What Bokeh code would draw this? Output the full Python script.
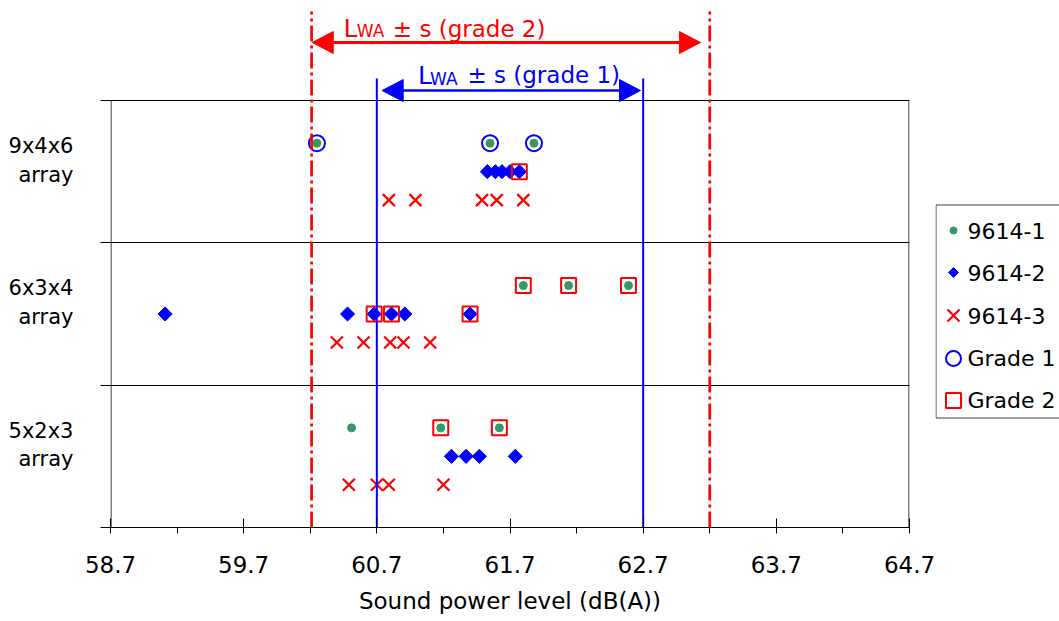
import math
from bokeh.plotting import figure
from bokeh.layouts import row
from bokeh.models import Range1d, FixedTicker, PrintfTickFormatter, ColumnDataSource
from bokeh.core.properties import value
from bokeh.embed import file_html
from bokeh.resources import INLINE

FONT = "DejaVu Sans"
GREEN = "#339966"
BLUE = "#0000FF"
RED = "#FF0000"

# ---------------- data ----------------
categories = ["9x4x6\narray", "6x3x4\narray", "5x2x3\narray"]   # top to bottom
series_names = ["9614-1", "9614-2", "9614-3"]

s9614_1 = [[60.25, 61.55, 61.88],
           [61.80, 62.14, 62.59],
           [60.51, 61.18, 61.62]]
s9614_2 = [[61.53, 61.59, 61.64, 61.70, 61.77],
           [59.11, 60.48, 60.68, 60.81, 60.91, 61.40],
           [61.26, 61.37, 61.47, 61.74]]
s9614_3 = [[60.79, 60.99, 61.49, 61.60, 61.80],
           [60.40, 60.60, 60.80, 60.90, 61.10],
           [60.49, 60.70, 60.79, 61.20]]

grade1_cat = [0, 0, 0]
grade1_series = [0, 0, 0]
grade1_x = [60.25, 61.55, 61.88]

grade2_cat = [0, 1, 1, 1, 1, 1, 1, 2, 2]
grade2_series = [1, 0, 0, 0, 1, 1, 1, 0, 0]
grade2_x = [61.77, 61.80, 62.14, 62.59, 60.68, 60.81, 61.40, 61.18, 61.62]

x_ticks = [58.7, 59.7, 60.7, 61.7, 62.7, 63.7, 64.7]
x_minor = [59.2, 60.2, 61.2, 62.2, 63.2, 64.2]

grade1_bounds = [60.7, 62.7]      # LWA ± s (grade 1)
grade2_bounds = [60.21, 63.2]     # LWA ± s (grade 2)
grade1_arrow = [60.74, 62.68]
grade2_arrow = [60.215, 63.13]

legend_labels = ["9614-1", "9614-2", "9614-3", "Grade 1", "Grade 2"]

# ---------------- geometry ----------------
N = len(categories)
XMIN, XMAX = x_ticks[0], x_ticks[-1]
FRAME_W, FRAME_H = 799, 527          # frame includes the annotation band above the data
DATA_H = 427                         # pixel height of the category area
PX_X = FRAME_W / (XMAX - XMIN)
PX_Y = DATA_H / N
YTOP = FRAME_H / PX_Y

offsets = [0.2, 0.0, -0.2]


def ypos(cat, ser):
    return (N - 1 - cat) + 0.5 + offsets[ser]


def series_source(vals, ser):
    xs, ys = [], []
    for c, lst in enumerate(vals):
        for v in lst:
            xs.append(v)
            ys.append(ypos(c, ser))
    return ColumnDataSource(dict(x=xs, y=ys))


src1 = series_source(s9614_1, 0)
src2 = series_source(s9614_2, 1)
src3 = series_source(s9614_3, 2)
srcg1 = ColumnDataSource(dict(x=grade1_x,
                              y=[ypos(c, s) for c, s in zip(grade1_cat, grade1_series)]))
srcg2 = ColumnDataSource(dict(x=grade2_x,
                              y=[ypos(c, s) for c, s in zip(grade2_cat, grade2_series)]))

# ---------------- main figure ----------------
p = figure(width=935, height=621, x_range=Range1d(XMIN, XMAX), y_range=Range1d(0, YTOP),
           output_backend="svg", toolbar_location=None,
           min_border_left=110, min_border_right=26, min_border_top=0, min_border_bottom=94)
p.outline_line_color = None
p.background_fill_color = "white"
p.border_fill_color = "white"

# plot-area borders (left / right) drawn only over the category area
p.segment(x0=[XMIN + 0.5 / PX_X, XMAX - 0.5 / PX_X], y0=[0, 0],
          x1=[XMIN + 0.5 / PX_X, XMAX - 0.5 / PX_X], y1=[N, N],
          line_color="black", line_width=1)

# data
p.scatter("x", "y", source=src1, marker="circle", size=8, fill_color=GREEN, line_color=GREEN)
p.scatter("x", "y", source=src2, marker="square", angle=math.pi / 4, size=10,
          fill_color=BLUE, line_color=BLUE)
p.scatter("x", "y", source=src3, marker="x", size=17, line_color=RED, line_width=2.2)
p.scatter("x", "y", source=srcg1, marker="circle", size=16, fill_color=None,
          line_color=BLUE, line_width=2)
p.scatter("x", "y", source=srcg2, marker="square", size=15, fill_color=None,
          line_color=RED, line_width=2)

# x axis
xa = p.xaxis[0]
xa.ticker = FixedTicker(ticks=x_ticks, minor_ticks=x_minor)
xa.formatter = PrintfTickFormatter(format="%.1f")
xa.axis_line_color = "black"
xa.major_tick_line_color = "black"
xa.minor_tick_line_color = "black"
xa.major_tick_in = 9
xa.major_tick_out = 6
xa.minor_tick_in = 0
xa.minor_tick_out = 6
xa.major_label_text_font = FONT
xa.major_label_text_font_size = "23px"
xa.major_label_text_color = "black"
xa.major_label_standoff = 22
xa.axis_label = "Sound power level (dB(A))"
xa.axis_label_text_font = FONT
xa.axis_label_text_font_size = "23px"
xa.axis_label_text_font_style = "normal"
xa.axis_label_text_color = "black"
xa.axis_label_standoff = 12

# y axis (category labels)
label_ticks = [(N - 1 - c) + 0.58 for c in range(N)]
ya = p.yaxis[0]
ya.ticker = FixedTicker(ticks=label_ticks, minor_ticks=list(range(N + 1)))
ya.major_label_overrides = {t: lab for t, lab in zip(label_ticks, categories)}
ya.axis_line_color = None
ya.major_tick_line_color = None
ya.major_tick_in = 0
ya.major_tick_out = 10
ya.minor_tick_line_color = "black"
ya.minor_tick_in = 10
ya.minor_tick_out = 10
ya.major_label_text_font = FONT
ya.major_label_text_font_size = "21px"
ya.major_label_text_color = "black"
ya.major_label_standoff = 27

p.xgrid.visible = False
p.ygrid.ticker = FixedTicker(ticks=list(range(1, N + 1)))
p.ygrid.grid_line_color = "black"
p.ygrid.grid_line_alpha = 1
p.ygrid.grid_line_width = 1

# reference lines (LWA ± s)
p.segment(x0=grade2_bounds, y0=[0, 0], x1=grade2_bounds, y1=[3.625, 3.625],
          line_color=RED, line_width=2.7, line_dash="16 4 3 4")
p.segment(x0=grade1_bounds, y0=[0, 0], x1=grade1_bounds, y1=[3.155, 3.155],
          line_color=BLUE, line_width=2)


def double_arrow(x0, x1, y, color, lw, head_len=21, head_w=22):
    dx = head_len / PX_X
    dy = (head_w / 2) / PX_Y
    p.segment(x0=[x0 + dx * 0.5], y0=[y], x1=[x1 - dx * 0.5], y1=[y],
              line_color=color, line_width=lw)
    p.patches(xs=[[x0, x0 + dx, x0 + dx], [x1, x1 - dx, x1 - dx]],
              ys=[[y, y + dy, y - dy], [y, y + dy, y - dy]],
              fill_color=color, line_color=color, line_width=1)


double_arrow(grade2_arrow[0], grade2_arrow[1], 3.4075, RED, 3)
double_arrow(grade1_arrow[0], grade1_arrow[1], 3.07, BLUE, 2.5)


def add_lwa(xL, xWA, xrest, yb, ysub, text, color):
    p.text(x=[xL], y=[yb], text=["L"], text_font=value(FONT), text_font_size="25px",
           text_color=color, text_baseline="alphabetic", text_align="left")
    p.text(x=[xWA], y=[ysub], text=["WA"], text_font=value(FONT), text_font_size="17px",
           text_color=color, text_baseline="alphabetic", text_align="left")
    p.text(x=[xrest], y=[yb], text=[text], text_font=value(FONT), text_font_size="23px",
           text_color=color, text_baseline="alphabetic", text_align="left")


add_lwa(60.45, 60.55, 60.82, 3.505, 3.485, "± s (grade 2)", RED)
add_lwa(61.01, 61.10, 61.38, 3.177, 3.150, "± s (grade 1)", BLUE)

# ---------------- legend panel ----------------
LEG_H = FRAME_H   # frames in a row are aligned, so this panel's frame matches the main one
lg = figure(width=124, height=621, x_range=Range1d(0, 124), y_range=Range1d(0, LEG_H),
            output_backend="svg", toolbar_location=None,
            min_border_left=0, min_border_right=0, min_border_top=0, min_border_bottom=94,
            x_axis_location=None, y_axis_location=None)
lg.grid.visible = False
lg.outline_line_color = None
lg.background_fill_color = "white"
lg.border_fill_color = "white"

lg.quad(left=[0.5], right=[400], top=[LEG_H - 205 + 0.5], bottom=[LEG_H - 418 + 0.5],
        fill_color="white", line_color="#404040", line_width=1)

leg_y = [LEG_H - v for v in (230, 272, 315, 358, 400)]
mx = 18
lg.scatter([mx], [leg_y[0]], marker="circle", size=7, fill_color=GREEN, line_color=GREEN)
lg.scatter([mx], [leg_y[1]], marker="square", angle=math.pi / 4, size=7,
           fill_color=BLUE, line_color=BLUE)
lg.scatter([mx], [leg_y[2]], marker="x", size=17, line_color=RED, line_width=2.2)
lg.scatter([mx], [leg_y[3]], marker="circle", size=15, fill_color=None,
           line_color=BLUE, line_width=2)
lg.scatter([mx], [leg_y[4]], marker="square", size=15, fill_color=None,
           line_color=RED, line_width=2)
lg.text(x=[32] * len(legend_labels), y=leg_y, text=legend_labels,
        text_font=value(FONT), text_font_size="22px", text_color="black",
        text_baseline="middle", text_align="left")

layout = row(p, lg)
open("out.html", "w").write(file_html(layout, INLINE))
